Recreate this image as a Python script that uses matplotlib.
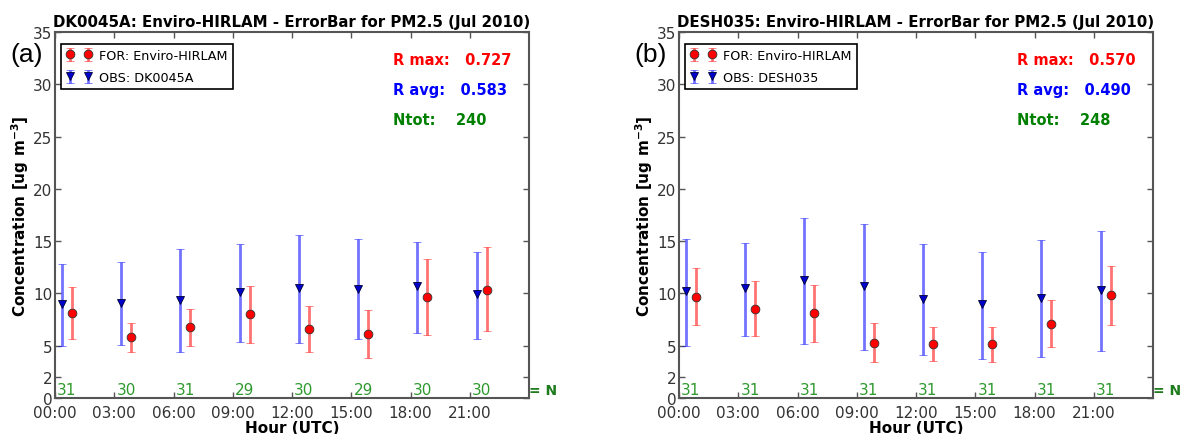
import numpy as np
import matplotlib
matplotlib.use("Agg")
import matplotlib.pyplot as plt

hours = [0, 3, 6, 9, 12, 15, 18, 21]
hour_labels = ["00:00", "03:00", "06:00", "09:00", "12:00", "15:00", "18:00", "21:00"]

# panel (a) DK0045A
obs_a = [8.95, 9.1, 9.4, 10.15, 10.5, 10.45, 10.7, 9.9]
obs_a_lo = [4.95, 5.05, 4.35, 5.4, 5.27, 5.65, 6.2, 5.65]
obs_a_hi = [12.8, 13.0, 14.2, 14.7, 15.55, 15.2, 14.9, 13.95]
for_a = [8.1, 5.8, 6.75, 8.0, 6.55, 6.15, 9.65, 10.35]
for_a_lo = [5.65, 4.4, 5.0, 5.25, 4.4, 3.85, 6.05, 6.4]
for_a_hi = [10.6, 7.2, 8.5, 10.75, 8.8, 8.4, 13.25, 14.4]
n_a = [31, 30, 31, 29, 30, 29, 30, 30]

# panel (b) DESH035
obs_b = [10.2, 10.55, 11.3, 10.7, 9.5, 8.95, 9.6, 10.3]
obs_b_lo = [5.0, 5.95, 5.2, 4.55, 4.15, 3.7, 3.95, 4.45]
obs_b_hi = [15.25, 14.85, 17.2, 16.6, 14.7, 14.0, 15.1, 15.95]
for_b = [9.7, 8.55, 8.1, 5.3, 5.2, 5.15, 7.1, 9.8]
for_b_lo = [6.95, 5.95, 5.35, 3.45, 3.5, 3.4, 4.85, 6.95]
for_b_hi = [12.45, 11.2, 10.85, 7.15, 6.8, 6.8, 9.35, 12.6]
n_b = [31, 31, 31, 31, 31, 31, 31, 31]

panels = [
    dict(station="DK0045A", tag="(a)", obs=obs_a, obs_lo=obs_a_lo, obs_hi=obs_a_hi,
         fc=for_a, fc_lo=for_a_lo, fc_hi=for_a_hi, n=n_a,
         rmax="0.727", ravg="0.583", ntot="240"),
    dict(station="DESH035", tag="(b)", obs=obs_b, obs_lo=obs_b_lo, obs_hi=obs_b_hi,
         fc=for_b, fc_lo=for_b_lo, fc_hi=for_b_hi, n=n_b,
         rmax="0.570", ravg="0.490", ntot="248"),
]

fig = plt.figure(figsize=(11.8, 4.35), dpi=100)
lefts = [55 / 1180, 679 / 1180]
spine_col = "#555555"

for p, left in zip(panels, lefts):
    ax = fig.add_axes([left, 0.0828, 0.4017, 0.8414])
    h = np.array(hours, dtype=float)
    obs = np.array(p["obs"]); fc = np.array(p["fc"])
    obs_err = [obs - np.array(p["obs_lo"]), np.array(p["obs_hi"]) - obs]
    fc_err = [fc - np.array(p["fc_lo"]), np.array(p["fc_hi"]) - fc]

    ax.errorbar(h + 0.85, fc, yerr=fc_err, fmt="o", color="red", ecolor=(1, 0, 0, 0.55),
                elinewidth=2, capsize=3, capthick=1.5, markersize=6.3,
                markeredgecolor="#333333", markeredgewidth=0.6,
                label="FOR: Enviro-HIRLAM")
    ax.errorbar(h + 0.35, obs, yerr=obs_err, fmt="v", color="#0000cc", ecolor=(0, 0, 1, 0.55),
                elinewidth=2, capsize=3, capthick=1.5, markersize=6.3,
                markeredgecolor="#000033", markeredgewidth=0.6,
                label="OBS: " + p["station"])

    for x, n in zip(h, p["n"]):
        ax.text(x + 0.6, 0.8, str(n), color="#2e9a2e", fontsize=11, ha="center", va="center")
    ax.text(24.02, 0.8, "= N", color="#1e7b1e", fontsize=10, fontweight="bold",
            ha="left", va="center", clip_on=False)

    ax.set_xlim(0, 24)
    ax.set_ylim(0, 35)
    ax.set_xticks(hours)
    ax.set_xticklabels(hour_labels)
    ax.set_yticks([0, 2, 5, 10, 15, 20, 25, 30, 35])
    ax.tick_params(direction="in", top=True, right=True, length=4, width=1,
                   color=spine_col, labelcolor="#333333", labelsize=11, pad=2)
    ax.tick_params(axis="x", pad=5)
    for s in ax.spines.values():
        s.set_color(spine_col)
        s.set_linewidth(1.5)

    ax.set_title(p["station"] + ": Enviro-HIRLAM - ErrorBar for PM2.5 (Jul 2010)",
                 fontsize=10.8, fontweight="bold", pad=4)
    ax.set_xlabel("Hour (UTC)", fontsize=11, fontweight="bold", labelpad=0)
    ax.set_ylabel("Concentration [ug m$^{\\mathbf{-3}}$]", fontsize=11, fontweight="bold",
                  labelpad=1)

    leg = ax.legend(loc="upper left", bbox_to_anchor=(0.012, 0.968), borderaxespad=0,
                    numpoints=2, fontsize=9.2, fancybox=False,
                    framealpha=1, edgecolor="black",
                    handletextpad=0.6, labelspacing=0.7, borderpad=0.4,
                    handlelength=2.0)
    leg.get_frame().set_linewidth(1.2)

    ax.text(0.713, 0.925, "R max:   " + p["rmax"], transform=ax.transAxes, color="red",
            fontsize=10.5, fontweight="bold", va="center")
    ax.text(0.713, 0.842, "R avg:   " + p["ravg"], transform=ax.transAxes, color="blue",
            fontsize=10.5, fontweight="bold", va="center")
    ax.text(0.713, 0.762, "Ntot:    " + p["ntot"], transform=ax.transAxes, color="green",
            fontsize=10.5, fontweight="bold", va="center")

    fig.text((left * 1180 - 28) / 1180, 1 - 55 / 435, p["tag"], fontsize=19,
             family="Liberation Sans", ha="center", va="center")

fig.savefig("out.png", dpi=100)
